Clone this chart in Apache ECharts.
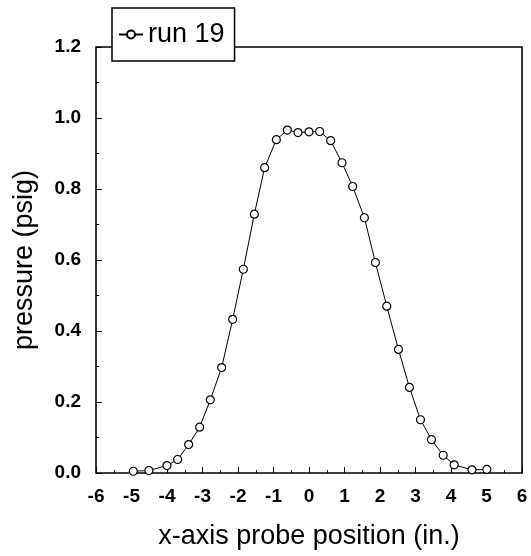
<!DOCTYPE html>
<html>
<head>
<meta charset="utf-8">
<script src="https://cdn.jsdelivr.net/npm/echarts@6/dist/echarts.min.js"></script>
<style>
  html, body { margin: 0; padding: 0; background: #fff; }
  #chart { width: 531px; height: 556px; }
</style>
</head>
<body>
<div id="chart"></div>
<script>
// Probe positions along the x axis (in.) and measured pressure (psig), run 19
const positions = [-4.95, -4.51, -4.0, -3.70, -3.39, -3.08, -2.78, -2.46, -2.15, -1.85,
                   -1.54, -1.25, -0.92, -0.61, -0.31, 0.0, 0.30, 0.61, 0.93, 1.23,
                   1.56, 1.87, 2.19, 2.52, 2.83, 3.14, 3.45, 3.78, 4.09, 4.59, 5.01];
const pressures = [0.005, 0.007, 0.021, 0.038, 0.080, 0.129, 0.206, 0.297, 0.433, 0.574,
                   0.729, 0.860, 0.939, 0.966, 0.959, 0.961, 0.962, 0.936, 0.874, 0.807,
                   0.719, 0.593, 0.470, 0.348, 0.241, 0.150, 0.094, 0.050, 0.023, 0.009, 0.010];
const seriesName = 'run 19';

const points = positions.map((x, i) => [x, pressures[i]]);
const FONT = '"Liberation Sans", Arial, Helvetica, sans-serif';

const chart = echarts.init(document.getElementById('chart'), null, { renderer: 'canvas' });
chart.setOption({
  animation: false,
  backgroundColor: '#fff',
  grid: {
    left: 96, right: 9, top: 47, bottom: 83,
    show: true, borderColor: '#000', borderWidth: 1.6, backgroundColor: 'transparent'
  },
  legend: {
    left: 112, top: 8,
    padding: [13, 10, 13, 6],
    backgroundColor: '#fff',
    borderColor: '#000', borderWidth: 1.5,
    itemWidth: 24, itemHeight: 10,
    textStyle: { fontFamily: FONT, fontSize: 27, color: '#000' },
    data: [seriesName]
  },
  xAxis: {
    type: 'value', min: -6, max: 6, interval: 1,
    name: 'x-axis probe position (in.)',
    nameLocation: 'middle', nameGap: 50,
    nameTextStyle: { fontFamily: FONT, fontSize: 27, color: '#000' },
    axisLine: { show: false, onZero: false },
    axisTick: { inside: true, length: 6, lineStyle: { color: '#000', width: 1 } },
    minorTick: { show: true, splitNumber: 2, length: 3, lineStyle: { color: '#000', width: 1 } },
    splitLine: { show: false },
    axisLabel: { fontFamily: FONT, fontSize: 19, fontWeight: 'bold', color: '#000', margin: 14 }
  },
  yAxis: {
    type: 'value', min: 0, max: 1.2, interval: 0.2,
    name: 'pressure (psig)',
    nameLocation: 'middle', nameGap: 58, nameRotate: 90,
    nameTextStyle: { fontFamily: FONT, fontSize: 27, color: '#000' },
    axisLine: { show: false, onZero: false },
    axisTick: { inside: true, length: 6, lineStyle: { color: '#000', width: 1 } },
    minorTick: { show: true, splitNumber: 2, length: 3, lineStyle: { color: '#000', width: 1 } },
    splitLine: { show: false },
    axisLabel: {
      fontFamily: FONT, fontSize: 19, fontWeight: 'bold', color: '#000', margin: 15,
      formatter: v => v.toFixed(1)
    }
  },
  series: [{
    name: seriesName,
    type: 'line',
    data: points,
    symbol: 'circle',
    symbolSize: 8,
    lineStyle: { color: '#000', width: 1 },
    itemStyle: { color: '#fff', borderColor: '#000', borderWidth: 1.2 },
    z: 3
  }]
});
</script>
</body>
</html>
